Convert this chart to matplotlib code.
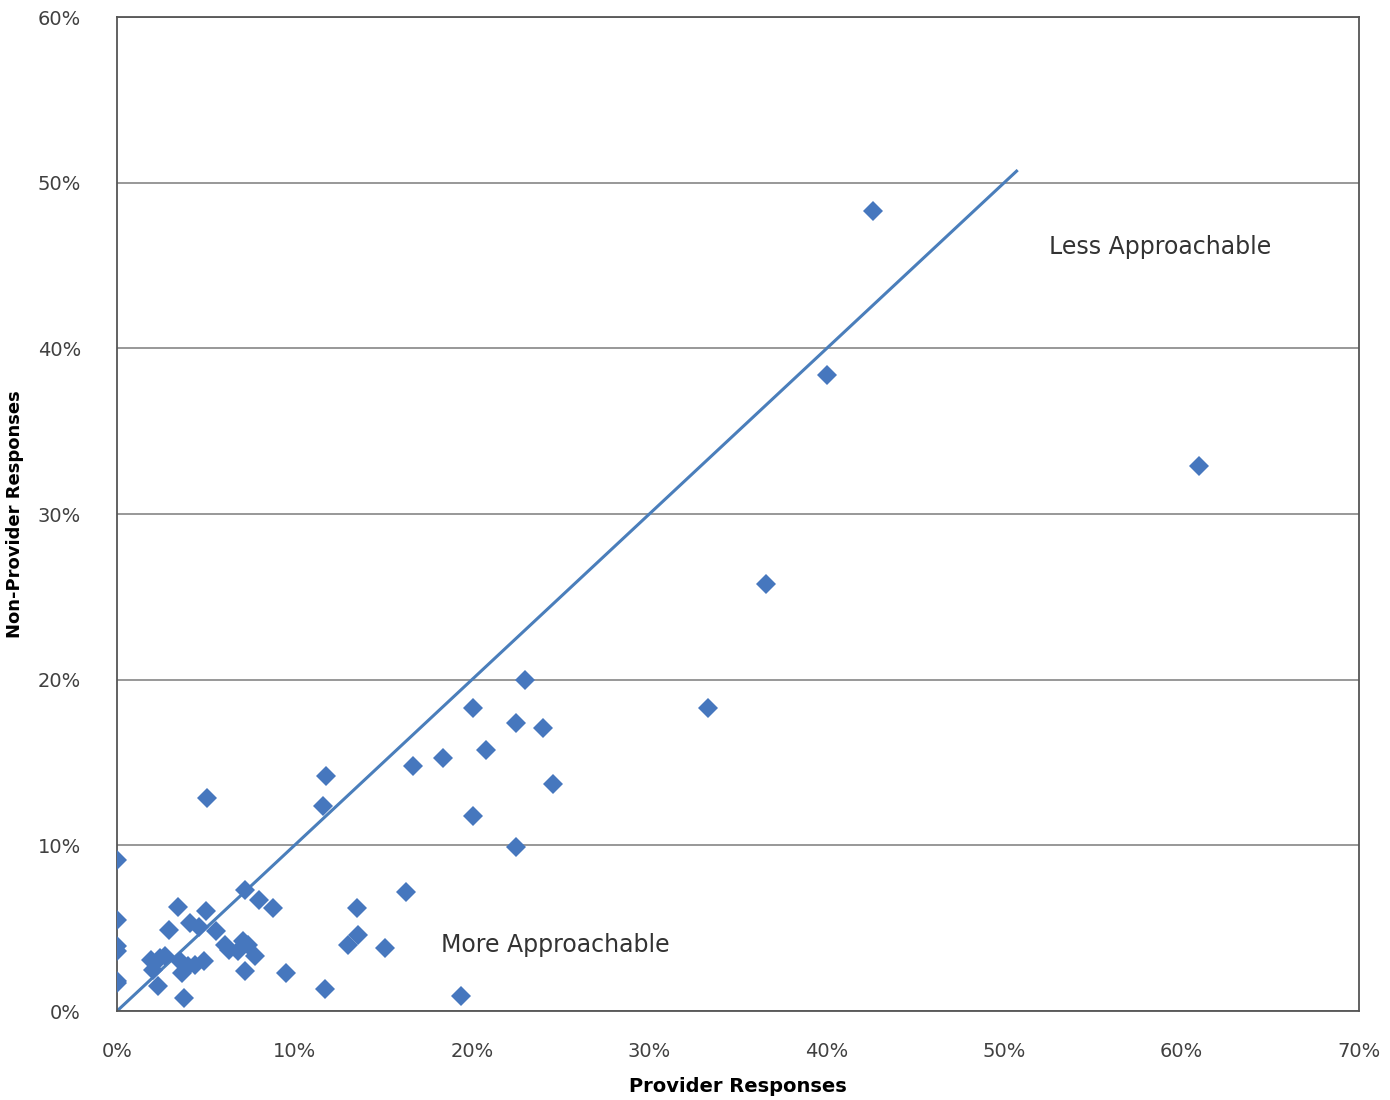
import numpy as np
import matplotlib.pyplot as plt

# Provider vs non-provider responses (percent)
provider = [0, 0, 0, 0, 0, 0,
            1.9, 2.4, 2.7, 2.05, 2.3, 2.95, 3.45, 3.55, 3.65, 3.75,
            4.0, 4.1, 4.4, 4.6, 4.9, 5.0, 5.05, 5.6, 6.1, 6.3,
            6.8, 7.1, 7.2, 7.2, 7.4, 7.8, 8.0, 8.8, 9.5,
            11.6, 11.7, 11.8, 13.0, 13.5, 13.6, 15.1, 16.3, 16.7,
            18.35, 19.4, 20.05, 20.05, 20.8, 22.5, 22.5, 23.0, 24.0, 24.6,
            33.3, 36.6, 40.0, 42.6, 61.0]
non_provider = [9.1, 5.5, 3.9, 3.6, 1.8, 1.7,
                3.1, 3.2, 3.3, 2.5, 1.5, 4.9, 6.3, 3.0, 2.3, 0.8,
                2.7, 5.3, 2.8, 5.1, 3.0, 6.05, 12.85, 4.8, 4.0, 3.7,
                3.6, 4.2, 7.3, 2.4, 4.0, 3.3, 6.7, 6.2, 2.3,
                12.4, 1.3, 14.2, 4.0, 6.2, 4.6, 3.8, 7.2, 14.8,
                15.3, 0.9, 18.3, 11.8, 15.75, 17.4, 9.9, 20.0, 17.1, 13.7,
                18.3, 25.8, 38.4, 48.3, 32.9]
trend_x = [0, 50.7]
trend_y = [0, 50.7]

blue = '#4677be'
tick_color = '#404040'

fig = plt.figure(figsize=(13.9, 11), dpi=100)
ax = fig.add_axes([0.0842, 0.0809, 0.8935, 0.9036])

ax.plot(trend_x, trend_y, color='#4a7ebb', linewidth=2.2, zorder=2)
ax.plot(provider, non_provider, 'D', color=blue, markersize=10,
        markeredgewidth=0, zorder=3)

ax.set_xlim(0, 70)
ax.set_ylim(0, 60)
ax.set_xticks(np.arange(0, 71, 10))
ax.set_yticks(np.arange(0, 61, 10))
ax.set_xticklabels([f'{v}%' for v in range(0, 71, 10)])
ax.set_yticklabels([f'{v}%' for v in range(0, 61, 10)])
ax.tick_params(length=0, labelsize=14, colors=tick_color)
ax.tick_params(axis='x', pad=22)
ax.tick_params(axis='y', pad=26)
ax.grid(axis='y', color='#868686', linewidth=1.2)
ax.set_axisbelow(True)
for s in ax.spines.values():
    s.set_color('#555555')
    s.set_linewidth(1.3)

ax.set_xlabel('Provider Responses', fontsize=14, fontweight='bold')
ax.xaxis.set_label_coords(0.5, -0.066)
ax.set_ylabel('Non-Provider Responses', fontsize=13, fontweight='bold')
ax.yaxis.set_label_coords(-0.075, 0.5)

ax.text(58.8, 46.1, 'Less Approachable', fontsize=17, color='#333333',
        ha='center', va='center')
ax.text(24.7, 4.0, 'More Approachable', fontsize=17, color='#333333',
        ha='center', va='center')

fig.savefig('out.png', dpi=100)
